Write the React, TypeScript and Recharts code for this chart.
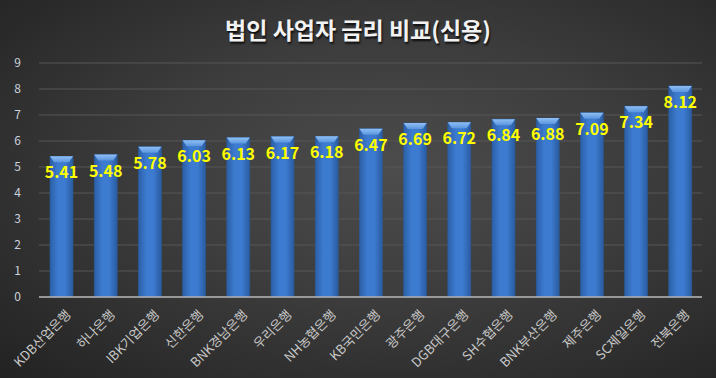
import React from "react";
import { BarChart, Bar, XAxis, YAxis, CartesianGrid, LabelList } from "recharts";

const banks = [
  "KDB산업은행",
  "하나은행",
  "IBK기업은행",
  "신한은행",
  "BNK경남은행",
  "우리은행",
  "NH농협은행",
  "KB국민은행",
  "광주은행",
  "DGB대구은행",
  "SH수협은행",
  "BNK부산은행",
  "제주은행",
  "SC제일은행",
  "전북은행",
];
const rates = [5.41, 5.48, 5.78, 6.03, 6.13, 6.17, 6.18, 6.47, 6.69, 6.72, 6.84, 6.88, 7.09, 7.34, 8.12];
const yTicks = [0, 1, 2, 3, 4, 5, 6, 7, 8, 9];

const data = banks.map((name, i) => ({ name, rate: rates[i] }));

const FONT = "'Noto Sans CJK KR', 'Noto Sans', sans-serif";

function BevelBar(props: any) {
  const { x, y, width, height } = props;
  if (!height || height <= 0) return null;
  const bevel = 6;
  return (
    <g>
      <rect x={x} y={y} width={width} height={height} fill="url(#barBody)" stroke="#2a5a9a" strokeWidth={0.6} />
      <path
        d={`M${x},${y} L${x + width},${y} L${x + width - 4},${y + bevel} L${x + 4},${y + bevel} Z`}
        fill="url(#barTop)"
      />
    </g>
  );
}

function XTick(props: any) {
  const { x, y, payload } = props;
  return (
    <g transform={`translate(${x + 5},${y + 5})`}>
      <text
        transform="rotate(-45)"
        textAnchor="end"
        dy={8}
        fill="#c9c9c9"
        fontSize={13}
        fontFamily={FONT}
      >
        {payload.value}
      </text>
    </g>
  );
}

function ValueLabel(props: any) {
  const { x, y, width, value } = props;
  return (
    <text
      x={x + width / 2}
      y={y + 22}
      textAnchor="middle"
      fill="#ffff00"
      fontSize={16}
      fontWeight="bold"
      fontFamily={FONT}
    >
      {value.toFixed(2)}
    </text>
  );
}

export default function App() {
  return (
    <div
      style={{
        position: "absolute",
        left: 0,
        top: 0,
        width: 716,
        height: 378,
        background: "radial-gradient(ellipse at 55% 45%, #4c4c4c 0%, #3c3c3c 45%, #222 100%)",
      }}
    >
      <div
        style={{
          position: "absolute",
          left: 0,
          top: 12,
          width: 716,
          textAlign: "center",
          color: "#f2f2f2",
          fontFamily: FONT,
          fontWeight: "bold",
          fontSize: 23,
          textShadow: "1px 2px 2px rgba(0,0,0,0.8)",
        }}
      >
        법인 사업자 금리 비교(신용)
      </div>
      <BarChart
        width={716}
        height={378}
        data={data}
        margin={{ top: 63, right: 14, left: 0, bottom: 0 }}
        style={{ position: "absolute", left: 0, top: 0 }}
      >
        <defs>
          <linearGradient id="barBody" x1="0" y1="0" x2="1" y2="0">
            <stop offset="0%" stopColor="#2c5fa6" />
            <stop offset="35%" stopColor="#3c7bd0" />
            <stop offset="65%" stopColor="#3c7bd0" />
            <stop offset="100%" stopColor="#2a5ba0" />
          </linearGradient>
          <linearGradient id="barTop" x1="0" y1="0" x2="0" y2="1">
            <stop offset="0%" stopColor="#8fc0f5" />
            <stop offset="100%" stopColor="#5a95dd" />
          </linearGradient>
        </defs>
        <CartesianGrid vertical={false} stroke="#575757" />
        <XAxis
          dataKey="name"
          interval={0}
          height={81}
          tick={<XTick />}
          tickLine={false}
          axisLine={{ stroke: "#b5b5b5", strokeWidth: 1.5 }}
        />
        <YAxis
          width={39}
          domain={[0, 9]}
          ticks={yTicks}
          interval={0}
          tick={{ fill: "#c9d2de", fontSize: 12, fontFamily: FONT }}
          tickLine={false}
          axisLine={false}
          tickMargin={12}
        />
        <Bar dataKey="rate" barSize={23} shape={<BevelBar />} isAnimationActive={false}>
          <LabelList dataKey="rate" content={<ValueLabel />} />
        </Bar>
      </BarChart>
    </div>
  );
}
